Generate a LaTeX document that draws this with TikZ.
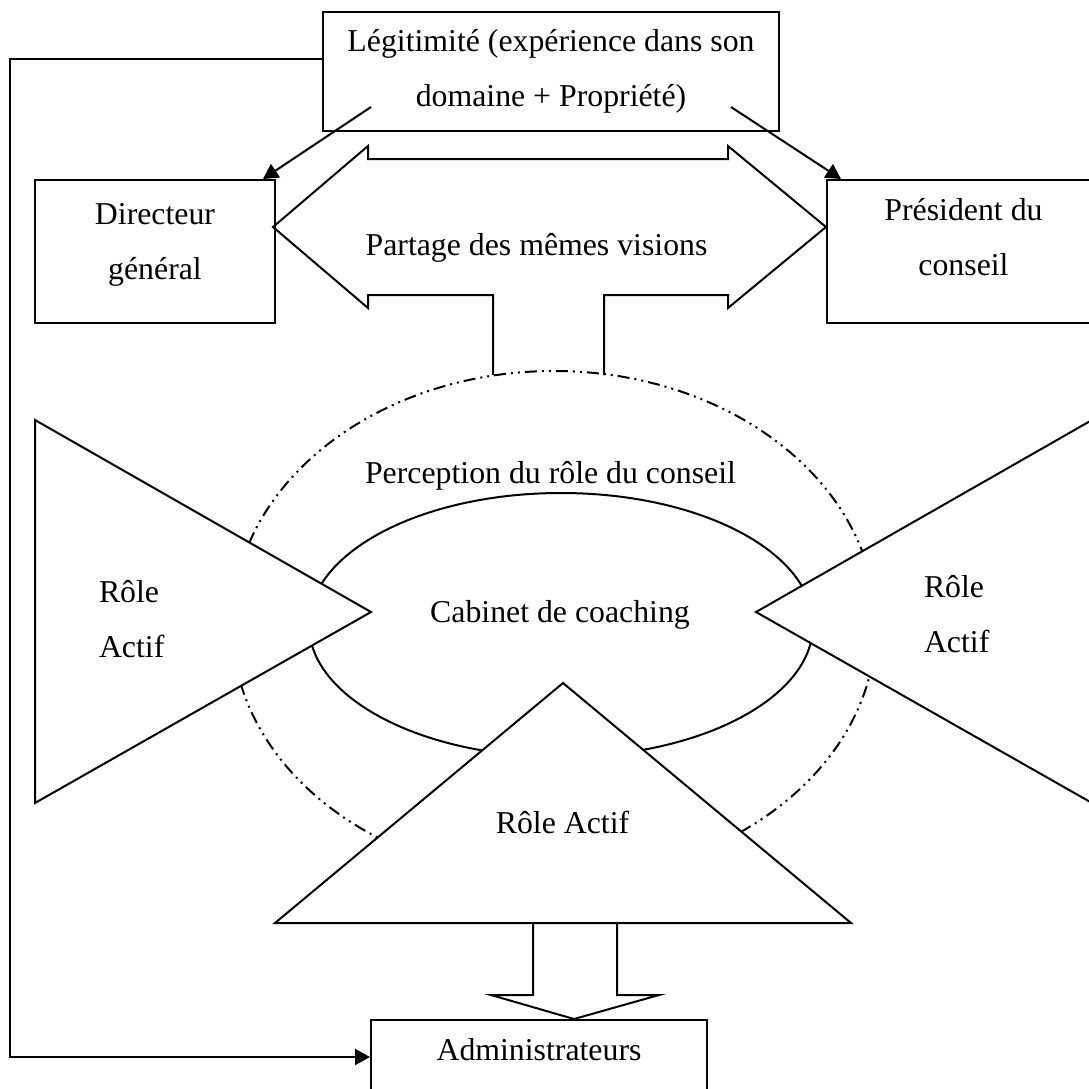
\documentclass[tikz,border=0pt]{standalone}
\usepackage{fontspec}
\setmainfont{Liberation Serif}
\usetikzlibrary{positioning}
\usetikzlibrary{calc}
\usetikzlibrary{arrows.meta}

\begin{document}
\begin{tikzpicture}[x=1pt,y=-1pt,line width=2pt,
	every node/.style={font=\fontsize{31.8}{55}\selectfont,inner sep=0pt},
	box/.style={draw,rectangle},
	conn/.style={-{Triangle[length=15pt,width=16pt]}},
	role/.style={draw,fill=white},
	dashdot/.style={dash pattern=on 12pt off 5pt on 2pt off 5pt on 2pt off 5pt}]
	\useasboundingbox (0,0) rectangle (1088,1089);

	% Perception (outer) and cabinet (inner)
	\draw[dashdot] (554,625) ellipse [x radius=322,y radius=254];
	\draw (561,625) ellipse [x radius=252,y radius=132];

	% Roles
	\draw[role] (35,420) -- (371,612) -- (35,803) -- cycle;
	\draw[role] (1092,420) -- (756,612) -- (1092,803) -- cycle;
	\draw[role] (563,683) -- (851,923) -- (275,923) -- cycle;

	% Boxes
	\node[box,minimum width=456,minimum height=119,align=center] (legit) at (551,71.5) {Légitimité (expérience dans son\\domaine + Propriété)};
	\node[box,minimum width=240,minimum height=143] (dg) at (155,251.5) {};
	\node[align=center] (dg text) at (155,244.5) {Directeur\\général};
	\node[box,minimum width=273,minimum height=143] (pc) at (963.5,251.5) {};
	\node[align=center] (pc text) at (963.5,237) {Président du\\conseil};
	\node[box,minimum width=336,minimum height=74] (admin) at (539,1057) {};
	\node (admin text) at (539,1049.5) {Administrateurs};

	% Double arrow
	\draw (493,375) -- (493,295) -- (368,295) -- (368,308) -- (273,227) -- (368,146) -- (368,159)
		-- (728,159) -- (728,146) -- (826,227) -- (728,308) -- (728,295) -- (604,295) -- (604,375);
	\node (partage) at (536.5,248) {Partage des mêmes visions};

	% Down arrow
	\draw (533,923) -- (533,995) -- (491,995) -- ($(admin.north west)+(204,0)$) -- (659,995) -- (617,995) -- (617,923);

	% Texts
	\node (perception) at (550.5,476) {Perception du rôle du conseil};
	\node (cabinet) at (560,615) {Cabinet de coaching};
	\node[align=left,anchor=west] (role l) at (98,619) {Rôle\\Actif};
	\node[align=left,anchor=west] (role r) at (923,614.5) {Rôle\\Actif};
	\node (role b) at (562.5,822.5) {Rôle Actif};

	% Legitimite
	\coordinate (lk) at ($(legit.north west)!0.4!(legit.south west)$);
	\coordinate (l1) at (371,107);
	\coordinate (l2) at (731,107);
	\draw[conn] (l1) -- ($(dg.north east)+(-13,0)$);
	\draw[conn] (l2) -- ($(pc.north west)+(15,0)$);
	\draw[conn] (lk) -- ++(-312,0) |- (admin.west);
\end{tikzpicture}
\end{document}
